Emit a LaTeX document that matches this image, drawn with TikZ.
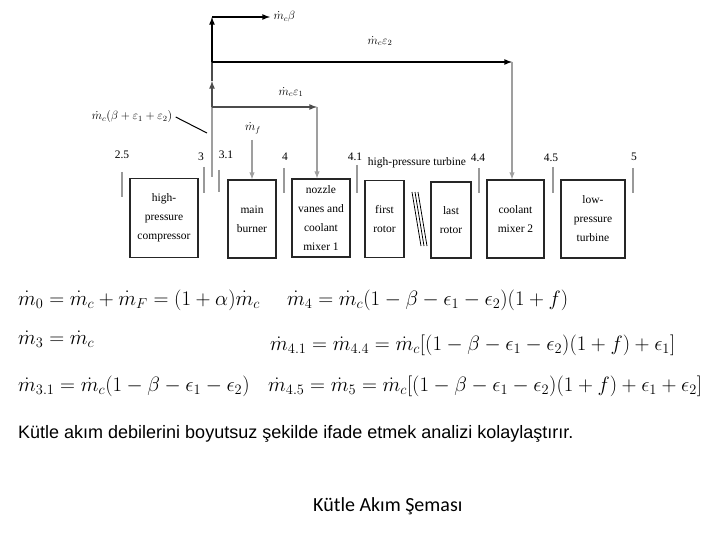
\documentclass[tikz,border=0pt]{standalone}
\usepackage{amsmath}
\usepackage{xcolor}
\usepackage{fontspec}
\setmainfont{Liberation Serif}
\newfontfamily\arialfont{Liberation Sans}
\newfontfamily\calfont{Carlito}
\usepackage{tikz}

\begin{document}
\begin{tikzpicture}[x=1pt,y=-1pt,
  unit/.style={draw=black!85,line width=1.3pt,align=center,inner sep=1pt,font=\fontsize{11.5}{19}\selectfont},
  flow/.style={line width=1.6pt},
  lite/.style={line width=1.4pt,gray!75},
  station/.style={line width=1.1pt,gray!80},
  eqn/.style={anchor=base west,inner sep=0pt,font=\fontsize{19.5}{22}\selectfont}]
\useasboundingbox (0,0) rectangle (720,540);

% engine components
\node[unit,minimum width=68pt,minimum height=79pt] (hpc) at (164,218) {high-\\pressure\\compressor};
\node[unit,minimum width=48pt,minimum height=78pt] (mb) at (252,219) {main\\burner};
\node[unit,minimum width=58pt,minimum height=78pt] (nz) at (321,218) {nozzle\\vanes and\\coolant\\mixer 1};
\node[unit,minimum width=39pt,minimum height=77pt] (r1) at (384.5,219) {first\\rotor};
\node[unit,minimum width=40pt,minimum height=76pt] (rl) at (451,220) {last\\rotor};
\node[unit,minimum width=57pt,minimum height=78pt] (cm2) at (515.5,219) {coolant\\mixer 2};
\node[unit,minimum width=64pt,minimum height=78pt] (lpt) at (593,219) {low-\\pressure\\turbine};
\node[font=\fontsize{11.5}{13}\selectfont,inner sep=0pt] (hpt) at (417,163) {high-pressure turbine};

% break between the rotors
\foreach \d in {0,3,6}
  \draw[line width=0.8pt] (412+\d,192) -- (421+\d,246);

% stations
\foreach \sx/\sa/\sb/\lx/\ly/\lab [count=\i] in
  {122/172/197/122/155/2.5, 204/167/193/201/157/3, 219/170/192/226/155/3.1,
   284/168/193/285/157/4, 357/165/193/355/157/4.1, 479/168/193/478/158/4.4,
   553/167/193/551/158/4.5, 633/168/193/634/157/5}
{
  \draw[station] (\sx,\sa) -- (\sx,\sb);
  \node[font=\fontsize{11.5}{13}\selectfont,inner sep=0pt] (st\i) at (\lx,\ly) {\lab};
}

% cooling air bleed
\coordinate (tbase) at (212,177);
\coordinate (jeps1) at (212,107);
\coordinate (tmid) at (212,81);
\coordinate (jeps2) at (212,62);
\coordinate (jbeta) at (212,17);
\coordinate (cbeta) at (270,17);
\coordinate (ceps2) at (512,62);
\coordinate (ceps1) at (317,107);
\coordinate (cfuel) at (252,140);

\draw[lite] (tbase) -- (jeps1);
\draw[flow,gray!60!black,-latex] (jeps1) -- (tmid);
\draw[flow,gray!60!black] (tmid) -- (jeps2);
\draw[flow,-latex] (jeps2) -- (jbeta);
\draw[flow,-latex] (jbeta) -- (cbeta);
\draw[flow,-latex] (jeps2) -- (ceps2);
\draw[lite,-latex] (ceps2) -- (ceps2 |- cm2.north);
\draw[flow,gray!60!black,-latex] (jeps1) -- (ceps1);
\draw[lite,-latex] (ceps1) -- (ceps1 |- nz.north);
\draw[lite,-latex] (cfuel) -- (cfuel |- mb.north);

\node[anchor=west,font=\fontsize{12}{14}\selectfont] (lbeta) at (cbeta) {$\dot m_c\beta$};
\node[font=\fontsize{12}{14}\selectfont] (leps2) at (380,41) {$\dot m_c\varepsilon_2$};
\node[font=\fontsize{12}{14}\selectfont] (leps1) at (291,92) {$\dot m_c\varepsilon_1$};
\node[font=\fontsize{12}{14}\selectfont] (lfuel) at (253,128) {$\dot m_f$};
\node[font=\fontsize{12}{14}\selectfont] (lmix) at (132,117) {$\dot m_c(\beta+\varepsilon_1+\varepsilon_2)$};
\draw[line width=1pt] (lmix.east) -- (207,133);

% mass flow relations
\node[eqn] (e0) at (18,305) {$\dot m_0=\dot m_c+\dot m_F=(1+\alpha)\dot m_c$};
\node[eqn] (e4) at (287,305) {$\dot m_4=\dot m_c(1-\beta-\epsilon_1-\epsilon_2)(1+f)$};
\node[eqn] (e3) at (18,344) {$\dot m_3=\dot m_c$};
\node[eqn] (e41) at (270,350) {$\dot m_{4.1}=\dot m_{4.4}=\dot m_c[(1-\beta-\epsilon_1-\epsilon_2)(1+f)+\epsilon_1]$};
\node[eqn] (e31) at (18,391) {$\dot m_{3.1}=\dot m_c(1-\beta-\epsilon_1-\epsilon_2)$};
\node[eqn] (e45) at (268,391) {$\dot m_{4.5}=\dot m_5=\dot m_c[(1-\beta-\epsilon_1-\epsilon_2)(1+f)+\epsilon_1+\epsilon_2]$};

\node[anchor=base west,inner sep=0pt,font=\arialfont\fontsize{18}{20}\selectfont] (note) at (18,438)
  {Kütle akım debilerini boyutsuz şekilde ifade etmek analizi kolaylaştırır.};
\node[anchor=base west,inner sep=0pt,font=\calfont\fontsize{20}{22}\selectfont] (title) at (313,511)
  {Kütle Akım Şeması};
\end{tikzpicture}
\end{document}
